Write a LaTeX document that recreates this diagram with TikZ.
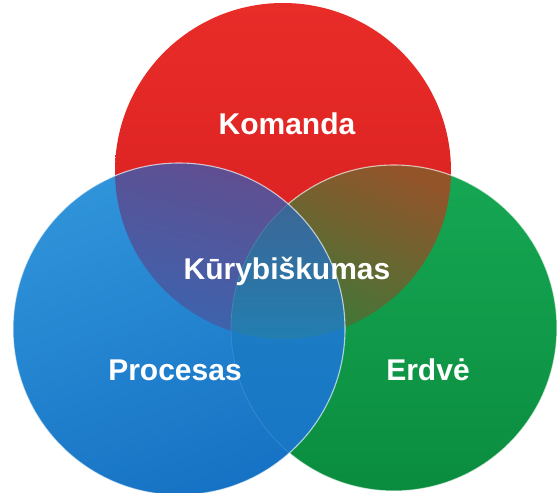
\documentclass[tikz,border=0pt]{standalone}
\usepackage{fontspec}
\setmainfont{Liberation Sans}
\begin{document}
\begin{tikzpicture}[x=1pt,y=-1pt,
  lbl/.style={text=white,font=\bfseries\fontsize{30}{31}\selectfont,inner sep=0pt},
  rim/.style={draw=white,draw opacity=0.65,line width=1.1pt}]
\definecolor{redA}{RGB}{232,44,40}
\definecolor{redB}{RGB}{214,30,32}
\definecolor{bluA}{RGB}{48,148,218}
\definecolor{bluB}{RGB}{22,114,196}
\definecolor{grnA}{RGB}{22,168,84}
\definecolor{grnB}{RGB}{10,140,62}
\definecolor{rbA}{RGB}{100,76,142}
\definecolor{rbB}{RGB}{52,104,180}
\definecolor{rgA}{RGB}{148,84,42}
\definecolor{rgB}{RGB}{52,124,58}
\definecolor{tA}{RGB}{62,100,148}
\definecolor{tB}{RGB}{34,126,176}
\definecolor{bgA}{RGB}{30,128,194}
\definecolor{bgB}{RGB}{24,118,198}

\useasboundingbox (0,0) rectangle (558,493);
\fill[white] (0,0) rectangle (558,493);

\def\redc{(283,171) circle (168)}
\def\bluc{(179,329) circle (166)}
\def\grnc{(394,328) circle (163)}

% base discs
\shade[top color=redA,bottom color=redB] \redc;
\shade[top color=grnA,bottom color=grnB] \grnc;
\shade[top color=bluA,bottom color=bluB,shading angle=20] \bluc;

% pairwise overlaps
\begin{scope}
  \clip \redc; \clip \bluc;
  \shade[top color=rbA,bottom color=rbB,shading angle=-15] (0,160) rectangle (360,340);
\end{scope}
\begin{scope}
  \clip \redc; \clip \grnc;
  \shade[top color=rgA,bottom color=rgB,shading angle=-25] (230,160) rectangle (460,340);
\end{scope}
\begin{scope}
  \clip \bluc; \clip \grnc;
  \shade[top color=bgA,bottom color=bgB] (230,160) rectangle (350,493);
\end{scope}
% centre, shared by all three
\begin{scope}
  \clip \redc; \clip \bluc; \clip \grnc;
  \shade[top color=tA,bottom color=tB] (230,190) rectangle (350,340);
\end{scope}

% light rims: green rim bright outside the blue disc, faint inside it
\begin{scope}[even odd rule]
  \clip (0,0) rectangle (558,493) (179,329) circle (166);
  \draw[rim] \grnc;
\end{scope}
\begin{scope}
  \clip \bluc;
  \draw[draw=white,draw opacity=0.12,line width=0.8pt] \grnc;
\end{scope}
\draw[rim] \bluc;

\node[lbl] (komanda) at (287,124) {Komanda};
\node[lbl] (kuryb) at (287,271) {Kūrybiškumas};
\node[lbl] (proc) at (175,370) {Procesas};
\node[lbl] (erdve) at (428,370) {Erdvė};
\end{tikzpicture}
\end{document}
